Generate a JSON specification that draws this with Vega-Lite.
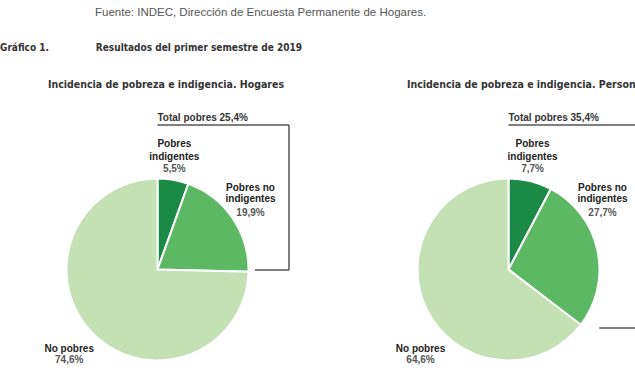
{
  "$schema": "https://vega.github.io/schema/vega-lite/v6.json",
  "padding": {"left": 0, "top": 6, "right": 0, "bottom": 0},
  "background": "white",
  "config": {
    "view": {"stroke": null},
    "title": {"anchor": "start", "frame": "group"}
  },
  "title": {
    "text": "Fuente: INDEC, Dirección de Encuesta Permanente de Hogares.",
    "anchor": "start",
    "dx": 95,
    "font": "Liberation Sans",
    "fontSize": 11.5,
    "fontWeight": "normal",
    "color": "#555555",
    "offset": 25
  },
  "datasets": {
    "sectores": [
      {"grupo": "Hogares", "categoria": "Pobres indigentes", "orden": 1, "porcentaje": 5.5},
      {"grupo": "Hogares", "categoria": "Pobres no indigentes", "orden": 2, "porcentaje": 19.9},
      {"grupo": "Hogares", "categoria": "No pobres", "orden": 3, "porcentaje": 74.6},
      {"grupo": "Personas", "categoria": "Pobres indigentes", "orden": 1, "porcentaje": 7.7},
      {"grupo": "Personas", "categoria": "Pobres no indigentes", "orden": 2, "porcentaje": 27.7},
      {"grupo": "Personas", "categoria": "No pobres", "orden": 3, "porcentaje": 64.6}
    ],
    "etiquetas": [
      {"grupo": "Hogares", "texto": "Pobres", "tipo": "nombre", "x": 0.185, "y": 1.382},
      {"grupo": "Hogares", "texto": "indigentes", "tipo": "nombre", "x": 0.185, "y": 1.24},
      {"grupo": "Hogares", "texto": "5,5%", "tipo": "valor", "x": 0.185, "y": 1.101},
      {"grupo": "Hogares", "texto": "Pobres no", "tipo": "nombre", "x": 1.022, "y": 0.899},
      {"grupo": "Hogares", "texto": "indigentes", "tipo": "nombre", "x": 1.022, "y": 0.771},
      {"grupo": "Hogares", "texto": "19,9%", "tipo": "valor", "x": 1.022, "y": 0.624},
      {"grupo": "Hogares", "texto": "No pobres", "tipo": "nombre", "x": -0.97, "y": -0.877},
      {"grupo": "Hogares", "texto": "74,6%", "tipo": "valor", "x": -0.97, "y": -0.998},
      {"grupo": "Hogares", "texto": "Total pobres 25,4%", "tipo": "total", "x": 0, "y": 1.668},
      {"grupo": "Personas", "texto": "Pobres", "tipo": "nombre", "x": 0.264, "y": 1.382},
      {"grupo": "Personas", "texto": "indigentes", "tipo": "nombre", "x": 0.264, "y": 1.24},
      {"grupo": "Personas", "texto": "7,7%", "tipo": "valor", "x": 0.264, "y": 1.101},
      {"grupo": "Personas", "texto": "Pobres no", "tipo": "nombre", "x": 1.033, "y": 0.899},
      {"grupo": "Personas", "texto": "indigentes", "tipo": "nombre", "x": 1.033, "y": 0.771},
      {"grupo": "Personas", "texto": "27,7%", "tipo": "valor", "x": 1.033, "y": 0.624},
      {"grupo": "Personas", "texto": "No pobres", "tipo": "nombre", "x": -0.967, "y": -0.877},
      {"grupo": "Personas", "texto": "64,6%", "tipo": "valor", "x": -0.967, "y": -0.998},
      {"grupo": "Personas", "texto": "Total pobres 35,4%", "tipo": "total", "x": 0, "y": 1.668}
    ],
    "llaves": [
      {"grupo": "Hogares", "x1": 0, "y1": 1.588, "x2": 1.445, "y2": 1.588},
      {"grupo": "Hogares", "x1": 1.445, "y1": 1.588, "x2": 1.445, "y2": -0.005},
      {"grupo": "Hogares", "x1": 1.071, "y1": -0.005, "x2": 1.445, "y2": -0.005},
      {"grupo": "Personas", "x1": 0, "y1": 1.588, "x2": 1.445, "y2": 1.588},
      {"grupo": "Personas", "x1": 1.445, "y1": 1.588, "x2": 1.445, "y2": -0.643},
      {"grupo": "Personas", "x1": 0.998, "y1": -0.643, "x2": 1.445, "y2": -0.643}
    ]
  },
  "vconcat": [
    {
      "title": {
        "text": "Gráfico 1.\u00a0\u00a0\u00a0\u00a0\u00a0\u00a0\u00a0\u00a0\u00a0\u00a0\u00a0\u00a0\u00a0\u00a0\u00a0Resultados del primer semestre de 2019",
        "anchor": "start",
        "font": "DejaVu Sans Condensed, sans-serif",
        "fontSize": 10,
        "fontWeight": "bold",
        "color": "#333333",
        "offset": 27
      },
      "spacing": 36,
      "hconcat": [
        {
          "width": 315,
          "height": 265,
          "title": {
            "text": "Incidencia de pobreza e indigencia. Hogares",
            "anchor": "start",
            "frame": "group",
            "dx": 48,
            "font": "DejaVu Sans Condensed, sans-serif",
            "fontSize": 10.5,
            "fontWeight": "bold",
            "color": "#333333",
            "offset": 20.5
          },
          "layer": [
            {
              "data": {"name": "sectores"},
              "transform": [{"filter": "datum.grupo === 'Hogares'"}],
              "mark": {"type": "arc", "outerRadius": 91, "stroke": "#ffffff", "strokeWidth": 2},
              "encoding": {
                "x": {"datum": 0, "type": "quantitative", "scale": {"domain": [-1.7308, 1.7308], "nice": false, "zero": false}, "axis": null},
                "y": {"datum": 0, "type": "quantitative", "scale": {"domain": [-1.1703, 1.7418], "nice": false, "zero": false}, "axis": null},
                "theta": {"field": "porcentaje", "type": "quantitative", "stack": true},
                "order": {"field": "orden", "type": "quantitative"},
                "color": {
                  "field": "categoria", "type": "nominal", "legend": null,
                  "scale": {"domain": ["Pobres indigentes", "Pobres no indigentes", "No pobres"], "range": ["#1b8a47", "#5db863", "#c4e0b5"]}
                }
              }
            },
            {
              "data": {"name": "llaves"},
              "transform": [{"filter": "datum.grupo === 'Hogares'"}],
              "mark": {"type": "rule", "stroke": "#555555", "strokeWidth": 1.5},
              "encoding": {
                "x": {"field": "x1", "type": "quantitative", "scale": {"domain": [-1.7308, 1.7308], "nice": false, "zero": false}, "axis": null},
                "x2": {"field": "x2"},
                "y": {"field": "y1", "type": "quantitative", "scale": {"domain": [-1.1703, 1.7418], "nice": false, "zero": false}, "axis": null},
                "y2": {"field": "y2"}
              }
            },
            {
              "data": {"name": "etiquetas"},
              "transform": [{"filter": "datum.grupo === 'Hogares' && datum.tipo !== 'total'"}],
              "mark": {"type": "text", "font": "Liberation Sans", "fontSize": 10, "fontWeight": "bold", "baseline": "middle", "align": "center"},
              "encoding": {
                "x": {"field": "x", "type": "quantitative", "scale": {"domain": [-1.7308, 1.7308], "nice": false, "zero": false}, "axis": null},
                "y": {"field": "y", "type": "quantitative", "scale": {"domain": [-1.1703, 1.7418], "nice": false, "zero": false}, "axis": null},
                "text": {"field": "texto"},
                "color": {"condition": {"test": "datum.tipo === 'valor'", "value": "#555555"}, "value": "#222222"}
              }
            },
            {
              "data": {"name": "etiquetas"},
              "transform": [{"filter": "datum.grupo === 'Hogares' && datum.tipo === 'total'"}],
              "mark": {"type": "text", "font": "Liberation Sans", "fontSize": 10, "fontWeight": "bold", "color": "#333333", "baseline": "middle", "align": "left"},
              "encoding": {
                "x": {"field": "x", "type": "quantitative", "scale": {"domain": [-1.7308, 1.7308], "nice": false, "zero": false}, "axis": null},
                "y": {"field": "y", "type": "quantitative", "scale": {"domain": [-1.1703, 1.7418], "nice": false, "zero": false}, "axis": null},
                "text": {"field": "texto"}
              }
            }
          ]
        },
        {
          "width": 284,
          "height": 265,
          "title": {
            "text": "Incidencia de pobreza e indigencia. Personas",
            "anchor": "start",
            "frame": "group",
            "dx": 56,
            "font": "DejaVu Sans Condensed, sans-serif",
            "fontSize": 10.5,
            "fontWeight": "bold",
            "color": "#333333",
            "offset": 20.5
          },
          "layer": [
            {
              "data": {"name": "sectores"},
              "transform": [{"filter": "datum.grupo === 'Personas'"}],
              "mark": {"type": "arc", "outerRadius": 91, "stroke": "#ffffff", "strokeWidth": 2},
              "encoding": {
                "x": {"datum": 0, "type": "quantitative", "scale": {"domain": [-1.7308, 1.3901], "nice": false, "zero": false}, "axis": null},
                "y": {"datum": 0, "type": "quantitative", "scale": {"domain": [-1.1703, 1.7418], "nice": false, "zero": false}, "axis": null},
                "theta": {"field": "porcentaje", "type": "quantitative", "stack": true},
                "order": {"field": "orden", "type": "quantitative"},
                "color": {
                  "field": "categoria", "type": "nominal", "legend": null,
                  "scale": {"domain": ["Pobres indigentes", "Pobres no indigentes", "No pobres"], "range": ["#1b8a47", "#5db863", "#c4e0b5"]}
                }
              }
            },
            {
              "data": {"name": "llaves"},
              "transform": [{"filter": "datum.grupo === 'Personas'"}],
              "mark": {"type": "rule", "stroke": "#555555", "strokeWidth": 1.5, "clip": true},
              "encoding": {
                "x": {"field": "x1", "type": "quantitative", "scale": {"domain": [-1.7308, 1.3901], "nice": false, "zero": false}, "axis": null},
                "x2": {"field": "x2"},
                "y": {"field": "y1", "type": "quantitative", "scale": {"domain": [-1.1703, 1.7418], "nice": false, "zero": false}, "axis": null},
                "y2": {"field": "y2"}
              }
            },
            {
              "data": {"name": "etiquetas"},
              "transform": [{"filter": "datum.grupo === 'Personas' && datum.tipo !== 'total'"}],
              "mark": {"type": "text", "font": "Liberation Sans", "fontSize": 10, "fontWeight": "bold", "baseline": "middle", "align": "center"},
              "encoding": {
                "x": {"field": "x", "type": "quantitative", "scale": {"domain": [-1.7308, 1.3901], "nice": false, "zero": false}, "axis": null},
                "y": {"field": "y", "type": "quantitative", "scale": {"domain": [-1.1703, 1.7418], "nice": false, "zero": false}, "axis": null},
                "text": {"field": "texto"},
                "color": {"condition": {"test": "datum.tipo === 'valor'", "value": "#555555"}, "value": "#222222"}
              }
            },
            {
              "data": {"name": "etiquetas"},
              "transform": [{"filter": "datum.grupo === 'Personas' && datum.tipo === 'total'"}],
              "mark": {"type": "text", "font": "Liberation Sans", "fontSize": 10, "fontWeight": "bold", "color": "#333333", "baseline": "middle", "align": "left"},
              "encoding": {
                "x": {"field": "x", "type": "quantitative", "scale": {"domain": [-1.7308, 1.3901], "nice": false, "zero": false}, "axis": null},
                "y": {"field": "y", "type": "quantitative", "scale": {"domain": [-1.1703, 1.7418], "nice": false, "zero": false}, "axis": null},
                "text": {"field": "texto"}
              }
            }
          ]
        }
      ]
    }
  ]
}
